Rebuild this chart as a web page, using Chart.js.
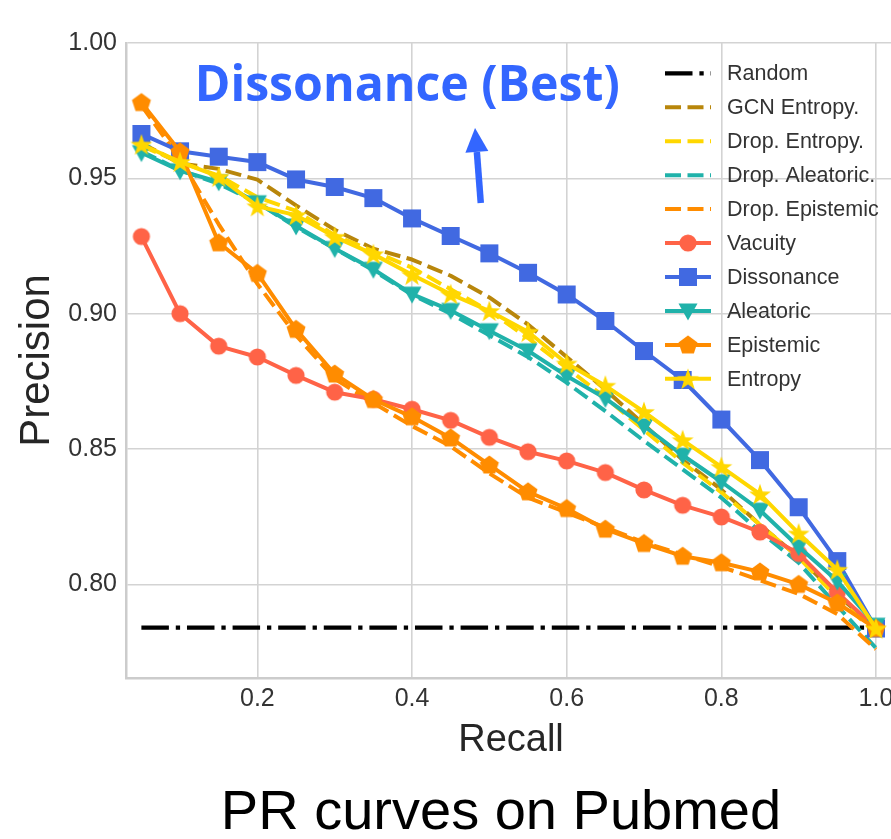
<!DOCTYPE html>
<html>
<head>
<meta charset="utf-8">
<script src="https://cdn.jsdelivr.net/npm/chart.js@4.4.1/dist/chart.umd.min.js"></script>
<style>
  html, body { margin: 0; padding: 0; background: #fff; overflow: hidden; width: 891px; height: 839px; }
  #wrap { position: absolute; left: 0; top: 0; width: 1002px; height: 839px; }
</style>
</head>
<body>
<div id="wrap"><canvas id="prChart" width="1002" height="839"></canvas></div>
<script>
// recall levels shared by every curve
const recall = [0.05, 0.10, 0.15, 0.20, 0.25, 0.30, 0.35, 0.40, 0.45, 0.50,
                0.55, 0.60, 0.65, 0.70, 0.75, 0.80, 0.85, 0.90, 0.95, 1.00];
const randomRecall = [0.05, 1.00];
const randomPrecision = [0.784, 0.784];

const gcnEntropy = [0.963, 0.9555, 0.9535, 0.9495, 0.940, 0.931, 0.924, 0.920, 0.914, 0.906,
                    0.896, 0.884, 0.872, 0.859, 0.846, 0.835, 0.822, 0.810, 0.796, 0.784];
const dropEntropy = [0.962, 0.956, 0.951, 0.943, 0.938, 0.929, 0.923, 0.917, 0.909, 0.901,
                     0.891, 0.880, 0.869, 0.857, 0.845, 0.834, 0.822, 0.810, 0.795, 0.782];
const dropAleatoric = [0.960, 0.953, 0.948, 0.941, 0.932, 0.924, 0.916, 0.907, 0.900, 0.892,
                       0.884, 0.8745, 0.864, 0.853, 0.8425, 0.832, 0.8195, 0.808, 0.792, 0.7765];
const dropEpistemic = [0.977, 0.957, 0.933, 0.911, 0.892, 0.876, 0.867, 0.8585, 0.851, 0.841,
                       0.832, 0.8265, 0.821, 0.8155, 0.811, 0.8065, 0.8015, 0.7965, 0.789, 0.776];
const vacuity = [0.9285, 0.900, 0.888, 0.884, 0.8772, 0.871, 0.8684, 0.8647, 0.8606, 0.8543,
                 0.849, 0.8456, 0.8413, 0.8349, 0.8292, 0.8249, 0.8193, 0.8114, 0.797, 0.7838];
const dissonance = [0.9664, 0.960, 0.958, 0.956, 0.9496, 0.9468, 0.9427, 0.9352, 0.9287, 0.9223,
                    0.9151, 0.9071, 0.8973, 0.8862, 0.8755, 0.8609, 0.8459, 0.8285, 0.8086, 0.7837];
const aleatoric = [0.9595, 0.9528, 0.9487, 0.941, 0.9324, 0.9241, 0.9164, 0.9072, 0.9012, 0.8937,
                   0.8863, 0.877, 0.8687, 0.8585, 0.8477, 0.8379, 0.8274, 0.8139, 0.8012, 0.7849];
const epistemic = [0.978, 0.9598, 0.9262, 0.9149, 0.8942, 0.8777, 0.8683, 0.8619, 0.8541, 0.8441,
                   0.8342, 0.828, 0.8204, 0.8151, 0.8104, 0.808, 0.8046, 0.800, 0.7931, 0.7837];
const entropy = [0.9625, 0.9561, 0.9506, 0.9397, 0.9364, 0.9284, 0.922, 0.9144, 0.9072, 0.901,
                 0.8933, 0.8816, 0.8734, 0.8637, 0.8533, 0.8434, 0.8333, 0.8188, 0.8054, 0.7837];

const xTicks = [0.2, 0.4, 0.6, 0.8, 1.0];
const yTicks = [0.80, 0.85, 0.90, 0.95, 1.00];

const FONT = '"Liberation Sans", Arial, sans-serif';
const GRID = '#d3d3d3';
const TEXT = '#333333';

// filled marker sprites (chart.js has no pentagon / filled star)
function makeMarker(shape, color) {
    const size = 26;
    const c = document.createElement('canvas');
    c.width = size;
    c.height = size;
    const g = c.getContext('2d');
    const m = size / 2;
    g.fillStyle = color;
    g.beginPath();
    if (shape === 'circle') {
        g.arc(m, m, 8.6, 0, Math.PI * 2);
    } else if (shape === 'square') {
        g.rect(m - 9, m - 9, 18, 18);
    } else if (shape === 'tridown') {
        g.moveTo(m - 9.5, m - 7.5);
        g.lineTo(m + 9.5, m - 7.5);
        g.lineTo(m, m + 9.5);
    } else if (shape === 'pentagon') {
        for (let k = 0; k < 5; k++) {
            const a = -Math.PI / 2 + k * 2 * Math.PI / 5;
            g.lineTo(m + 10 * Math.cos(a), m + 0.5 + 10 * Math.sin(a));
        }
    } else if (shape === 'star') {
        for (let k = 0; k < 10; k++) {
            const r = k % 2 === 0 ? 11.5 : 4.5;
            const a = -Math.PI / 2 + k * Math.PI / 5;
            g.lineTo(m + r * Math.cos(a), m + 1 + r * Math.sin(a));
        }
    }
    g.closePath();
    g.fill();
    return c;
}

function pts(xs, ys) {
    return xs.map((x, i) => ({ x: x, y: ys[i] }));
}

const seriesDefs = [
    { label: 'Random', xs: randomRecall, ys: randomPrecision, color: '#000000', dash: [27.5, 6.9, 4.3, 6.9], width: 4.3 },
    { label: 'GCN Entropy.', xs: recall, ys: gcnEntropy, color: '#b8860b', dash: [16, 6.5] },
    { label: 'Drop. Entropy.', xs: recall, ys: dropEntropy, color: '#ffd700', dash: [16, 6.5] },
    { label: 'Drop. Aleatoric.', xs: recall, ys: dropAleatoric, color: '#20b2aa', dash: [16, 6.5] },
    { label: 'Drop. Epistemic', xs: recall, ys: dropEpistemic, color: '#ff8c00', dash: [16, 6.5] },
    { label: 'Vacuity', xs: recall, ys: vacuity, color: '#ff6347', marker: 'circle' },
    { label: 'Dissonance', xs: recall, ys: dissonance, color: '#4169e1', marker: 'square' },
    { label: 'Aleatoric', xs: recall, ys: aleatoric, color: '#20b2aa', marker: 'tridown' },
    { label: 'Epistemic', xs: recall, ys: epistemic, color: '#ff8c00', marker: 'pentagon' },
    { label: 'Entropy', xs: recall, ys: entropy, color: '#ffd700', marker: 'star' }
];

const datasets = seriesDefs.map((s, i) => {
    const sprite = s.marker ? makeMarker(s.marker, s.color) : false;
    return {
        label: s.label,
        data: pts(s.xs, s.ys),
        borderColor: s.color,
        backgroundColor: s.color,
        borderWidth: s.width || 4,
        borderDash: s.dash || [],
        borderJoinStyle: 'round',
        pointStyle: sprite,
        pointRadius: sprite ? 8 : 0,
        pointHoverRadius: sprite ? 8 : 0,
        fill: false,
        tension: 0,
        order: seriesDefs.length - i,
        sprite: sprite
    };
});

// legend inside the axes, no frame
const prLegend = {
    id: 'prLegend',
    afterDraw(chart) {
        const { ctx, chartArea } = chart;
        const x0 = chartArea.left + 539;
        const x1 = chartArea.left + 585;
        const tx = chartArea.left + 601;
        const y0 = chartArea.top + 30.3;
        const step = 33.95;
        ctx.save();
        chart.data.datasets.forEach((ds, i) => {
            const y = y0 + i * step;
            ctx.beginPath();
            ctx.strokeStyle = ds.borderColor;
            ctx.lineWidth = ds.borderWidth;
            ctx.setLineDash(ds.borderDash);
            ctx.moveTo(x0, y);
            ctx.lineTo(x1, y);
            ctx.stroke();
            ctx.setLineDash([]);
            if (ds.sprite) {
                ctx.drawImage(ds.sprite, (x0 + x1) / 2 - ds.sprite.width / 2, y - ds.sprite.height / 2);
            }
            ctx.fillStyle = TEXT;
            ctx.font = '21.5px ' + FONT;
            ctx.textAlign = 'left';
            ctx.textBaseline = 'middle';
            ctx.fillText(ds.label, tx, y + 1);
        });
        ctx.restore();
    }
};

// "Dissonance (Best)" note with arrow, placed in data coordinates
const bestNote = {
    id: 'bestNote',
    afterDatasetsDraw(chart) {
        const { ctx, scales: { x, y } } = chart;
        ctx.save();
        ctx.fillStyle = '#3366ff';
        ctx.strokeStyle = '#3366ff';
        ctx.font = 'bold 50px "Open Sans", "Noto Sans", sans-serif';
        ctx.textAlign = 'left';
        ctx.textBaseline = 'alphabetic';
        const txt = 'Dissonance (Best)';
        const w = ctx.measureText(txt).width;
        const tx = x.getPixelForValue(0.119);
        const ty = y.getPixelForValue(0.9787);
        ctx.translate(tx, ty);
        ctx.scale(425 / w, 1);
        ctx.fillText(txt, 0, 0);
        ctx.setTransform(1, 0, 0, 1, 0, 0);

        const sx = x.getPixelForValue(0.4889), sy = y.getPixelForValue(0.9409);
        const ex = x.getPixelForValue(0.4815), ey = y.getPixelForValue(0.9686);
        const ang = Math.atan2(ey - sy, ex - sx);
        const head = 24, half = 11.5;
        const bx = ex - head * Math.cos(ang), by = ey - head * Math.sin(ang);
        ctx.lineWidth = 6.5;
        ctx.beginPath();
        ctx.moveTo(sx, sy);
        ctx.lineTo(bx, by);
        ctx.stroke();
        ctx.beginPath();
        ctx.moveTo(ex, ey);
        ctx.lineTo(bx + half * Math.sin(ang), by - half * Math.cos(ang));
        ctx.lineTo(bx - half * Math.sin(ang), by + half * Math.cos(ang));
        ctx.closePath();
        ctx.fill();
        ctx.restore();
    }
};

const ctx = document.getElementById('prChart').getContext('2d');
const chart = new Chart(ctx, {
    type: 'line',
    data: { datasets },
    options: {
        responsive: false,
        devicePixelRatio: 1,
        animation: false,
        events: [],
        layout: { padding: { top: 43, left: 0, right: 0, bottom: 0 } },
        scales: {
            x: {
                type: 'linear',
                min: 0.0301,
                max: 1.0259,
                afterBuildTicks: (s) => { s.ticks = xTicks.map(v => ({ value: v })); },
                afterFit: (s) => { s.height = 91; s.paddingLeft = 0; s.paddingRight = 0; },
                grid: { color: GRID, lineWidth: 1.6, drawTicks: false },
                border: { color: '#cccccc', width: 2.5 },
                ticks: {
                    color: TEXT, padding: 6,
                    font: { family: FONT, size: 25 },
                    callback: (v) => v.toFixed(1)
                },
                title: {
                    display: true, text: 'Recall', color: '#262626',
                    font: { family: FONT, size: 38 },
                    padding: { top: 0, bottom: 6 }
                }
            },
            y: {
                min: 0.7654,
                max: 1.0,
                afterBuildTicks: (s) => { s.ticks = yTicks.map(v => ({ value: v })); },
                afterFit: (s) => { s.width = 126; s.paddingTop = 0; s.paddingBottom = 0; },
                grid: { color: GRID, lineWidth: 1.6, drawTicks: false },
                border: { color: '#cccccc', width: 2.5 },
                ticks: {
                    color: TEXT, padding: 9,
                    font: { family: FONT, size: 25 },
                    callback: (v) => v.toFixed(2)
                },
                title: {
                    display: true, text: 'Precision', color: '#262626',
                    font: { family: FONT, size: 42 },
                    padding: { top: 12, bottom: 0 }
                }
            },
            // blank strip on the right; the figure continues past the window edge
            yRight: {
                position: 'right',
                min: 0,
                max: 1,
                afterFit: (s) => { s.width = 106; s.paddingTop = 0; s.paddingBottom = 0; },
                grid: { display: false, drawTicks: false },
                border: { display: false },
                ticks: { display: false }
            }
        },
        plugins: {
            legend: { display: false },
            tooltip: { enabled: false },
            title: {
                display: true,
                position: 'bottom',
                text: 'PR curves on Pubmed',
                color: '#000000',
                font: { family: FONT, size: 56, weight: 'normal', lineHeight: '50px' },
                padding: { top: 20, bottom: 0 }
            }
        }
    },
    plugins: [bestNote, prLegend]
});
</script>
</body>
</html>
